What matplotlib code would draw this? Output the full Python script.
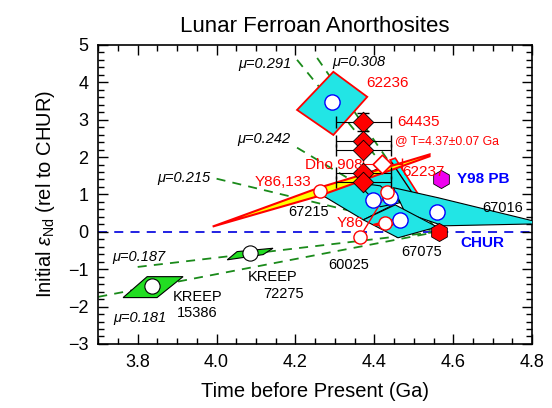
import matplotlib
matplotlib.use("Agg")
import matplotlib.pyplot as plt
from matplotlib.patches import Polygon
from matplotlib.ticker import MultipleLocator

plt.rcParams['font.family'] = ['Liberation Sans', 'DejaVu Sans']
plt.rcParams['mathtext.fontset'] = 'custom'
plt.rcParams['mathtext.rm'] = 'Liberation Sans'
plt.rcParams['mathtext.it'] = 'Liberation Sans:italic'

# Nd evolution lines (start age, start eps) all ending at CHUR origin
mu_vals = ['0.308', '0.291', '0.242', '0.215', '0.187', '0.181']
mu_t0 = [4.255, 4.204, 4.204, 4.00, 3.80, 3.70]
mu_e0 = [4.65, 4.60, 2.25, 1.42, -0.94, -1.74]
origin_t, origin_e = 4.56, 0.0
mu_lab_x = [4.293, 4.19, 4.187, 3.984, 3.735, 3.738]
mu_lab_y = [4.55, 4.48, 2.49, 1.44, -0.67, -2.30]
mu_lab_ha = ['left', 'right', 'right', 'right', 'left', 'left']

# isochron error parallelograms
p62236 = [(4.296, 4.28), (4.382, 3.61), (4.296, 2.59), (4.204, 3.26)]
p62237 = [(4.440, 1.92), (4.453, 1.97), (4.509, 1.04), (4.499, 0.99)]
p67215 = [(4.258, 1.04), (4.445, 1.84), (4.499, 0.99), (4.372, 0.32)]
p_inner = [(4.357, 1.31), (4.415, 1.23), (4.466, 0.78), (4.415, 0.67)]
p67075 = [(4.372, 0.32), (4.453, 0.72), (4.559, 0.13), (4.460, -0.16)]
p67016 = [(4.448, 1.18), (4.562, 0.91), (4.803, 0.29), (4.803, 0.21),
          (4.575, 0.16), (4.478, 0.51)]
p_y86133 = [(3.99, 0.14), (4.26, 1.18), (4.54, 2.07), (4.54, 2.02), (4.26, 0.96)]
p_y86 = [(4.397, 0.19), (4.465, 0.37), (4.44, 0.13)]
p15386 = [(3.763, -1.76), (3.824, -1.20), (3.915, -1.20), (3.849, -1.76)]
p72275 = [(4.027, -0.75), (4.052, -0.53), (4.143, -0.44), (4.118, -0.61)]

# points
blue_t = [4.293, 4.397, 4.44, 4.465, 4.559]
blue_e = [3.48, 0.86, 0.94, 0.32, 0.53]
red_t = [4.263, 4.433, 4.427, 4.364]
red_e = [1.10, 1.07, 0.24, -0.13]
kreep_t = [3.837, 4.084]
kreep_e = [-1.46, -0.57]
fan_t = [4.372, 4.372, 4.372, 4.372, 4.372]
fan_e = [2.94, 2.42, 2.18, 1.56, 1.32]
fan_terr = 0.07
dho_t, dho_e = 4.42, 1.82
chur_t, chur_e = 4.565, 0.0
y98_t, y98_e = 4.57, 1.42

fig = plt.figure(figsize=(5.52, 4.08), dpi=100)
ax = fig.add_axes([0.178, 0.157, 0.786, 0.733])
ax.set_xlim(3.7, 4.8)
ax.set_ylim(-3, 5)

ax.axhline(0, color='#1010e0', ls=(0, (5, 4)), lw=1.3, zorder=1)

for t0, e0 in zip(mu_t0, mu_e0):
    ax.plot([t0, origin_t], [e0, origin_e], color='#1a8a1a', ls=(0, (5, 4)),
            lw=1.3, zorder=2)
for lab, x, y, ha in zip(mu_vals, mu_lab_x, mu_lab_y, mu_lab_ha):
    ax.text(x, y, 'μ=' + lab, fontstyle='italic', fontsize=10.5, ha=ha,
            va='center')

ax.add_patch(Polygon(p62237, fc='cyan', ec='red', lw=1.2, zorder=3))
for p in [p67215, p67016, p67075, p_inner]:
    ax.add_patch(Polygon(p, fc='#22e5e5', ec='black', lw=0.8, zorder=4))
ax.add_patch(Polygon(p62236, fc='#22e5e5', ec='red', lw=1.3, zorder=4))
ax.add_patch(Polygon(p_y86133, fc='yellow', ec='red', lw=1.5, zorder=5))
ax.add_patch(Polygon(p_y86, fc='yellow', ec='red', lw=1.2, zorder=5))
for p in [p15386, p72275]:
    ax.add_patch(Polygon(p, fc='#22dd22', ec='black', lw=0.8, zorder=4))

ax.plot([4.433, 4.364], [1.07, -0.13], color='red', lw=1.0, zorder=5)

ax.scatter(blue_t, blue_e, s=120, fc='white', ec='blue', lw=1.0, zorder=6)
ax.scatter(red_t, red_e, s=90, fc='white', ec='red', lw=1.0, zorder=6)
ax.scatter(kreep_t, kreep_e, s=120, fc='white', ec='black', lw=0.8, zorder=6)

ax.errorbar(fan_t, fan_e, xerr=fan_terr, fmt='none', ecolor='black',
            elinewidth=0.8, capsize=4, zorder=6)
ax.errorbar([fan_t[0]], [fan_e[0]], yerr=0.25, fmt='none', ecolor='black',
            elinewidth=0.8, capsize=4, zorder=6)
ax.scatter(fan_t, fan_e, marker='D', s=110, fc='red', ec='black', lw=0.6,
           zorder=7)
ax.errorbar([dho_t], [dho_e], xerr=0.05, fmt='none', ecolor='red',
            elinewidth=0.8, capsize=4, zorder=6)
ax.scatter([dho_t], [dho_e], marker='D', s=90, fc='white', ec='red', lw=1.2,
           zorder=7)
ax.scatter([chur_t], [chur_e], marker='h', s=170, fc='red', ec='black',
           lw=0.6, zorder=7)
ax.scatter([y98_t], [y98_e], marker='h', s=170, fc='#ee00ee', ec='black',
           lw=0.6, zorder=7)

red_txt = dict(color='red', fontsize=11, va='center', zorder=8)
ax.text(4.379, 3.98, '62236', ha='left', **red_txt)
ax.text(4.458, 2.94, '64435', ha='left', **red_txt)
ax.text(4.453, 2.43, '@ T=4.37±0.07 Ga', ha='left', color='red', fontsize=8.8,
        va='center', zorder=8)
ax.text(4.369, 1.79, 'Dho 908', ha='right', **red_txt)
ax.text(4.471, 1.60, '62237', ha='left', **red_txt)
ax.text(4.169, 1.34, 'Y86,133', ha='center', **red_txt)
ax.text(4.339, 0.24, 'Y86', ha='center', **red_txt)

blk_txt = dict(color='black', fontsize=10.5, va='center', ha='center', zorder=8)
ax.text(4.232, 0.53, '67215', **blk_txt)
ax.text(4.724, 0.64, '67016', **blk_txt)
ax.text(4.521, -0.53, '67075', **blk_txt)
ax.text(4.334, -0.88, '60025', **blk_txt)
ax.text(3.951, -1.74, 'KREEP', **blk_txt)
ax.text(3.951, -2.17, '15386', **blk_txt)
ax.text(4.141, -1.20, 'KREEP', **blk_txt)
ax.text(4.169, -1.66, '72275', **blk_txt)

ax.text(4.61, 1.42, 'Y98 PB', color='blue', fontsize=11, fontweight='bold',
        va='center', ha='left', zorder=8)
ax.text(4.618, -0.29, 'CHUR', color='blue', fontsize=11, fontweight='bold',
        va='center', ha='left', zorder=8)

ax.set_title('Lunar Ferroan Anorthosites', fontsize=16, pad=9)
ax.set_xlabel('Time before Present (Ga)', fontsize=14.5, labelpad=8)
ax.set_ylabel(r'Initial $\varepsilon_{\mathrm{Nd}}$ (rel to CHUR)', fontsize=14.5,
              labelpad=8)
ax.set_xticks([3.8, 4.0, 4.2, 4.4, 4.6, 4.8])
ax.set_xticklabels(['3.8', '4.0', '4.2', '4.4', '4.6', '4.8'])
ax.xaxis.set_minor_locator(MultipleLocator(0.05))
ax.yaxis.set_major_locator(MultipleLocator(1))
ax.yaxis.set_minor_locator(MultipleLocator(0.2))
ax.tick_params(which='both', direction='in', top=True, right=True,
               labelsize=13, width=1.0)
ax.tick_params(which='major', length=7, pad=7)
ax.tick_params(which='minor', length=4)
for s in ax.spines.values():
    s.set_linewidth(1.2)

fig.savefig('out.png', dpi=100)
